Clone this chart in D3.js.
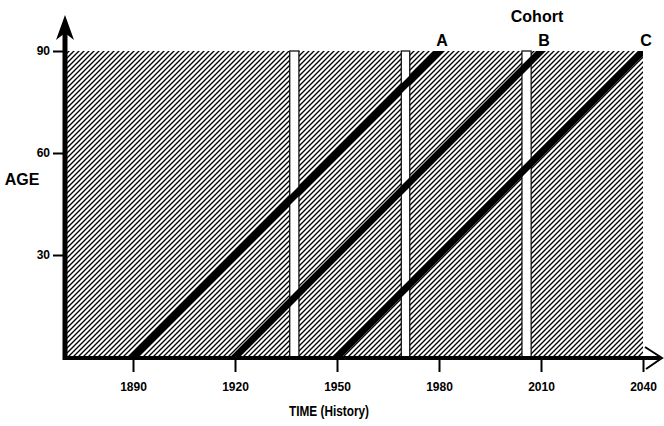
<!DOCTYPE html>
<html lang="en">
<head>
<meta charset="utf-8">
<title>Cohort diagram</title>
<script src="https://cdn.jsdelivr.net/npm/d3@7"></script>
<style>
    body { margin: 0; background: #fff; }
    text { font-family: "Liberation Sans", Arial, sans-serif; font-weight: bold; fill: #000; }
</style>
</head>
<body>
<div id="chart"></div>
<script>
    // values
    var yearTicks = [1890, 1920, 1950, 1980, 2010, 2040];
    var ageTicks = [30, 60, 90];
    var cohortNames = ["A", "B", "C"];
    var cohortBirth = [1890, 1920, 1950];
    var lifeSpan = 90;
    var gapStart = [1936.1, 1968.9, 2004.4];
    var gapEnd = [1938.8, 1971.4, 2007.1];

    var w = 664, h = 426;
    var x = d3.scaleLinear().domain([1870, 2040]).range([65, 643]);
    var y = d3.scaleLinear().domain([0, lifeSpan]).range([357, 51]);

    var svg = d3.select("#chart").append("svg")
        .attr("width", w)
        .attr("height", h);

    var defs = svg.append("defs");
    var pat = defs.append("pattern")
        .attr("id", "hatch")
        .attr("patternUnits", "userSpaceOnUse")
        .attr("width", 5)
        .attr("height", 5);
    pat.append("path")
        .attr("d", "M-1,1 l2,-2 M0,5 l5,-5 M4,6 l2,-2")
        .attr("stroke", "#000")
        .attr("stroke-width", 1.35);

    var x0 = x.range()[0], x1 = x.range()[1];
    var yTop = y(lifeSpan), yBot = y(0);

    defs.append("clipPath").attr("id", "plot")
        .append("rect")
            .attr("x", x0).attr("y", yTop)
            .attr("width", x1 - x0).attr("height", yBot - yTop);

    // hatched field
    svg.append("rect")
        .attr("x", x0).attr("y", yTop)
        .attr("width", x1 - x0).attr("height", yBot - yTop)
        .attr("fill", "url(#hatch)");

    // white gaps
    svg.selectAll(".gap")
        .data(d3.range(gapStart.length))
        .enter()
        .append("rect")
            .attr("class", "gap")
            .attr("x", function(i) { return x(gapStart[i]) })
            .attr("y", yTop)
            .attr("width", function(i) { return x(gapEnd[i]) - x(gapStart[i]) })
            .attr("height", yBot - yTop)
            .attr("fill", "#fff")
            .attr("stroke", "#000")
            .attr("stroke-width", 1.2);

    // cohort lines
    svg.append("g").attr("clip-path", "url(#plot)")
        .selectAll("line")
        .data(cohortBirth)
        .enter()
        .append("line")
            .attr("x1", function(d) { return x(d - 3) })
            .attr("y1", y(-3))
            .attr("x2", function(d) { return x(d + lifeSpan + 3) })
            .attr("y2", y(lifeSpan + 3))
            .attr("stroke", "#000")
            .attr("stroke-width", 7);

    svg.selectAll(".cohort")
        .data(cohortNames)
        .enter()
        .append("text")
            .attr("class", "cohort")
            .attr("x", function(d, i) { return x(cohortBirth[i] + lifeSpan) + 3 })
            .attr("y", yTop - 5)
            .attr("text-anchor", "middle")
            .style("font-size", "16px")
            .text(function(d) { return d });

    // axes
    var yAxis = svg.append("g")
        .attr("transform", "translate(63,0)")
        .call(d3.axisLeft(y).tickValues(ageTicks).tickSize(10).tickPadding(3));
    var xAxis = svg.append("g")
        .attr("transform", "translate(0,358)")
        .call(d3.axisBottom(x).tickValues(yearTicks).tickFormat(d3.format("d"))
            .tickSize(14).tickPadding(10));
    [yAxis, xAxis].forEach(function(a) {
        a.select(".domain").remove();
        a.selectAll(".tick line").attr("stroke", "#000").attr("stroke-width", 2);
        a.selectAll(".tick text")
            .style("font-size", "12px")
            .style("font-family", '"Liberation Sans", Arial, sans-serif')
            .style("font-weight", "bold");
    });

    svg.append("line")
        .attr("x1", 65).attr("x2", 65)
        .attr("y1", 360).attr("y2", 30)
        .attr("stroke", "#000").attr("stroke-width", 5);
    svg.append("path")
        .attr("d", "M65,15 L56,40 L65,33 L74,40 Z")
        .attr("fill", "#000");

    svg.append("line")
        .attr("x1", 63).attr("x2", 660)
        .attr("y1", 358).attr("y2", 358)
        .attr("stroke", "#000").attr("stroke-width", 4);
    svg.append("path")
        .attr("d", "M645,347 L662,358 L646,369")
        .attr("fill", "none")
        .attr("stroke", "#000").attr("stroke-width", 2);

    // titles
    svg.append("text")
        .attr("x", 22).attr("y", 185)
        .attr("text-anchor", "middle")
        .style("font-size", "16px")
        .text("AGE");
    svg.append("text")
        .attr("x", 329).attr("y", 416)
        .attr("text-anchor", "middle")
        .attr("textLength", 80)
        .attr("lengthAdjust", "spacingAndGlyphs")
        .style("font-size", "15px")
        .text("TIME  (History)");
    svg.append("text")
        .attr("x", 537).attr("y", 22)
        .attr("text-anchor", "middle")
        .style("font-size", "16px")
        .text("Cohort");
</script>
</body>
</html>
